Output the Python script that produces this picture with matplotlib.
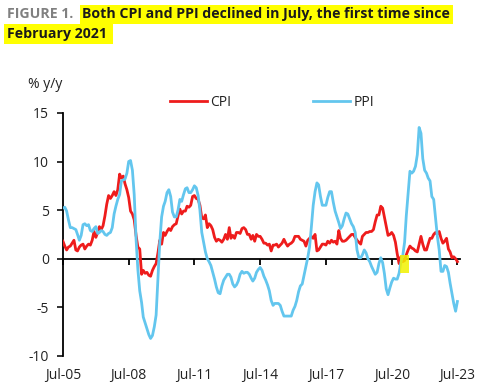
import matplotlib
matplotlib.use("Agg")
import matplotlib.pyplot as plt
import matplotlib.dates as mdates
import pandas as pd
from matplotlib.patches import Rectangle

plt.rcParams['font.family'] = ['Open Sans', 'DejaVu Sans']

# China CPI and PPI, % y/y, monthly Jul-2005 .. Jul-2023
cpi = [1.8, 1.3, 0.9, 1.2, 1.3, 1.6,
       1.9, 0.9, 0.8, 1.2, 1.4, 1.5, 1.0, 1.3, 1.5, 1.4, 1.9, 2.8,
       2.2, 2.7, 3.3, 3.0, 3.4, 4.4, 5.6, 6.5, 6.2, 6.5, 6.9, 6.5,
       7.1, 8.7, 8.3, 8.5, 7.7, 7.1, 6.3, 4.9, 4.6, 4.0, 2.4, 1.2,
       1.0, -1.6, -1.2, -1.5, -1.4, -1.7, -1.8, -1.2, -0.8, -0.5, 0.6, 1.9,
       1.5, 2.7, 2.4, 2.8, 3.1, 2.9, 3.3, 3.5, 3.6, 4.4, 5.1, 4.6,
       4.9, 4.9, 5.4, 5.3, 5.5, 6.4, 6.5, 6.2, 6.1, 5.5, 4.2, 4.1,
       4.5, 3.2, 3.6, 3.4, 3.0, 2.2, 1.8, 2.0, 1.9, 1.7, 2.0, 2.5,
       2.0, 3.2, 2.1, 2.4, 2.1, 2.7, 2.7, 2.6, 3.1, 3.2, 3.0, 2.5,
       2.5, 2.0, 2.4, 1.8, 2.5, 2.3, 2.3, 2.0, 1.6, 1.6, 1.4, 1.5,
       0.8, 1.4, 1.4, 1.5, 1.2, 1.4, 1.6, 2.0, 1.6, 1.3, 1.5, 1.6,
       1.8, 2.3, 2.3, 2.3, 2.0, 1.9, 1.8, 1.3, 1.9, 2.1, 2.3, 2.1,
       2.5, 0.8, 0.9, 1.2, 1.5, 1.5, 1.4, 1.8, 1.6, 1.9, 1.7, 1.8,
       1.5, 2.9, 2.1, 1.8, 1.8, 1.9, 2.1, 2.3, 2.5, 2.5, 2.2, 1.9,
       1.7, 1.5, 2.3, 2.5, 2.7, 2.7, 2.8, 2.8, 3.0, 3.8, 4.5, 4.5,
       5.4, 5.2, 4.3, 3.3, 2.4, 2.5, 2.7, 2.4, 1.7, 0.5, -0.5, 0.2,
       -0.3, -0.2, 0.4, 0.9, 1.3, 1.1, 1.0, 0.8, 0.7, 1.5, 2.3, 1.5,
       0.9, 0.9, 1.5, 2.1, 2.1, 2.5, 2.7, 2.5, 2.8, 2.1, 1.6, 1.8,
       2.1, 1.0, 0.7, 0.1, 0.2, 0.0, -0.3]

ppi = [5.2, 5.3, 4.9, 4.0, 3.2, 3.2,
       3.1, 3.0, 2.5, 1.9, 2.4, 3.5, 3.6, 3.4, 3.5, 2.9, 2.8, 3.1,
       3.3, 2.6, 2.7, 2.9, 2.8, 2.5, 2.4, 2.6, 2.7, 3.2, 4.6, 5.4,
       6.1, 6.6, 8.0, 8.1, 8.2, 8.8, 10.0, 10.1, 9.1, 6.6, 2.0, -1.1,
       -3.3, -4.5, -6.0, -6.6, -7.2, -7.8, -8.2, -7.9, -7.0, -5.8, -2.1, 1.7,
       4.3, 5.4, 5.9, 6.8, 7.1, 6.4, 4.8, 4.3, 4.3, 5.0, 6.1, 5.9,
       6.6, 7.2, 7.3, 6.8, 6.8, 7.1, 7.5, 7.3, 6.5, 5.0, 2.7, 1.7,
       0.7, 0.0, -0.3, -0.7, -1.4, -2.1, -2.9, -3.5, -3.6, -2.8, -2.2, -1.9,
       -1.6, -1.6, -1.9, -2.6, -2.9, -2.7, -2.3, -1.6, -1.3, -1.5, -1.4, -1.4,
       -1.6, -2.0, -2.3, -2.0, -1.4, -1.1, -0.9, -1.2, -1.8, -2.2, -2.7, -3.3,
       -4.3, -4.8, -4.6, -4.6, -4.6, -4.8, -5.4, -5.9, -5.9, -5.9, -5.9, -5.9,
       -5.3, -4.9, -4.3, -3.4, -2.8, -2.6, -1.7, -0.8, 0.1, 1.2, 3.3, 5.5,
       6.9, 7.8, 7.6, 6.4, 5.5, 5.5, 5.5, 6.3, 6.9, 6.9, 5.8, 4.9,
       4.3, 3.7, 3.1, 3.4, 4.1, 4.7, 4.6, 4.1, 3.6, 3.3, 2.7, 0.9,
       0.1, 0.1, 0.4, 0.9, 0.6, 0.0, -0.3, -0.8, -1.2, -1.6, -1.4, -0.5,
       0.1, -0.4, -1.5, -3.1, -3.7, -3.0, -2.4, -2.0, -2.1, -2.1, -1.5, -0.4,
       0.3, 1.7, 4.4, 6.8, 9.0, 8.8, 9.0, 9.5, 10.7, 13.5, 12.9, 10.3,
       9.1, 8.8, 8.3, 8.0, 6.4, 6.1, 4.2, 2.3, 0.9, -1.3, -1.3, -0.7,
       -0.8, -1.4, -2.5, -3.6, -4.6, -5.4, -4.4]

dates = pd.date_range('2005-07-01', periods=len(cpi), freq='MS')
tick_years = [2005, 2008, 2011, 2014, 2017, 2020, 2023]

red = '#ee1c1c'
blue = '#63c6ee'

fig = plt.figure(figsize=(4.84, 3.92), dpi=100)
ax = fig.add_axes([0.130, 0.092, 0.820, 0.620])

ax.plot(dates, cpi, color=red, lw=2.0, label='CPI', zorder=3)
ax.plot(dates, ppi, color=blue, lw=2.0, label='PPI', zorder=3)

# yellow marker on Feb 2021
x0 = mdates.date2num(pd.Timestamp('2020-11-10'))
x1 = mdates.date2num(pd.Timestamp('2021-04-10'))
ax.add_patch(Rectangle((x0, -1.45), x1 - x0, 1.85, facecolor='#f2f200',
                       alpha=0.85, edgecolor='none', zorder=4))

ax.set_ylim(-10, 15)
ax.set_yticks([-10, -5, 0, 5, 10, 15])
ax.set_xlim(pd.Timestamp('2005-07-01'), pd.Timestamp('2023-08-10'))

for s in ['top', 'right']:
    ax.spines[s].set_visible(False)
ax.spines['bottom'].set_position(('data', 0))
ax.spines['bottom'].set_linewidth(1.3)
ax.spines['left'].set_linewidth(1.3)
ax.spines['bottom'].set_zorder(2)

ticks = [pd.Timestamp(f'{y}-07-01') for y in tick_years]
ax.set_xticks(ticks)
ax.tick_params(axis='x', direction='out', length=4, width=1.3, labelbottom=False)
ax.tick_params(axis='y', direction='out', length=4, width=1.3, labelsize=10,
               pad=6, colors='#222222')
ax.set_yticklabels(['-10', '-5', '0', '5', '10', '15'])

sec = ax.secondary_xaxis(0)
sec.set_xticks(ticks)
sec.set_xticklabels([t.strftime('%b-%y') for t in ticks])
sec.tick_params(length=0, pad=9, labelsize=10, colors='#222222')
sec.spines['bottom'].set_visible(False)

leg = ax.legend(loc='lower left', bbox_to_anchor=(0.255, 0.99), ncol=2,
                frameon=False, fontsize=10, handlelength=2.7,
                columnspacing=5.9, handletextpad=0.2, borderaxespad=0)
for t in leg.get_texts():
    t.set_color('#222222')

fig.text(0.058, 0.775, '% y/y', fontsize=10, color='#222222')

fig.text(0.014, 0.953, 'FIGURE 1.', fontsize=10.2, color='#808080',
         fontweight='bold')
fig.text(0.170, 0.953, 'Both CPI and PPI declined in July, the first time since',
         fontsize=10.2, color='#1a1a1a', fontweight='bold',
         bbox=dict(facecolor='#ffff00', edgecolor='none', pad=1.8))
fig.text(0.014, 0.903, 'February 2021 ', fontsize=10.2, color='#1a1a1a',
         fontweight='bold',
         bbox=dict(facecolor='#ffff00', edgecolor='none', pad=1.8))

fig.savefig('out.png', dpi=100)
